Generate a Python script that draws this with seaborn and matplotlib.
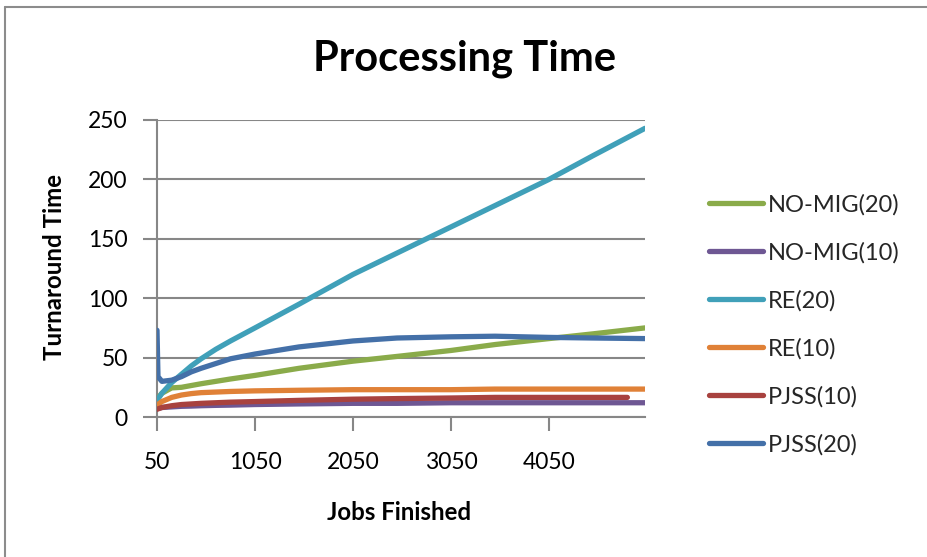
import matplotlib
matplotlib.use("Agg")
import matplotlib.pyplot as plt
import seaborn as sns
import pandas as pd
from matplotlib.lines import Line2D

# Jobs finished (sample points along the run)
jobs = [50, 100, 200, 300, 400, 500, 650, 800, 1050, 1500, 2050, 2500, 3050, 3500, 4050, 4500, 5030]

# Average turnaround time per strategy
no_mig_20 = [15, 20, 24.5, 25, 26.5, 28, 30, 32, 35, 41, 47, 51, 56, 61, 66, 70, 75]
no_mig_10 = [7, 8, 8.5, 9, 9.2, 9.5, 9.8, 10, 10.5, 11, 11.5, 11.5, 12, 12, 12, 12, 12]
re_20 = [14, 20, 29, 36, 43, 49, 57, 64, 75, 95, 120, 138, 160, 178, 200, 220, 243]
re_10 = [10, 13, 16.5, 18.5, 19.7, 20.5, 21, 21.5, 22, 22.5, 23, 23, 23, 23.5, 23.5, 23.5, 23.5]
pjss_10_jobs = [50, 100, 200, 300, 500, 800, 1050, 1500, 2050, 2500, 3050, 3500, 4050, 4500, 4850]
pjss_10 = [6.5, 8, 9.5, 10.5, 11.5, 12.5, 13, 14, 15, 15.5, 16, 16.5, 16.5, 16.5, 16.5]
pjss_20_jobs = [50, 60, 100, 200, 300, 400, 500, 650, 800, 1050, 1500, 2050, 2500, 3050, 3500, 4050, 4500, 5030]
pjss_20 = [73, 34, 30, 31, 34, 38, 41, 45, 49, 53, 59, 64, 66.5, 67.5, 68, 67, 66.5, 66]

series_names = ["NO-MIG(20)", "NO-MIG(10)", "RE(20)", "RE(10)", "PJSS(10)", "PJSS(20)"]
series_colors = ["#8AAB4A", "#6E5793", "#40A0B9", "#E08137", "#A8423F", "#4470A8"]

x_ticks = [50, 1050, 2050, 3050, 4050]
y_ticks = [0, 50, 100, 150, 200, 250]

frames = []
for name, xs, ys in [
    ("NO-MIG(20)", jobs, no_mig_20),
    ("NO-MIG(10)", jobs, no_mig_10),
    ("RE(20)", jobs, re_20),
    ("RE(10)", jobs, re_10),
    ("PJSS(10)", pjss_10_jobs, pjss_10),
    ("PJSS(20)", pjss_20_jobs, pjss_20),
]:
    frames.append(pd.DataFrame({"jobs": xs, "time": ys, "series": name}))
df = pd.concat(frames, ignore_index=True)

sns.set_theme(style="white")
plt.rcParams["font.family"] = ["Lato", "DejaVu Sans"]

W, H = 927, 557
fig = plt.figure(figsize=(W / 100, H / 100), dpi=100)
left, right, top, bottom = 157, 645, 120, 417
ax = fig.add_axes([left / W, 1 - bottom / H, (right - left) / W, (bottom - top) / H])

palette = dict(zip(series_names, series_colors))
sns.lineplot(data=df, x="jobs", y="time", hue="series", hue_order=series_names,
             palette=palette, estimator=None, sort=True, linewidth=3.8,
             legend=False, ax=ax, zorder=3)
for line in ax.get_lines():
    line.set_solid_capstyle("round")
    line.set_solid_joinstyle("round")

grid_c = "#878787"
ax.set_xlim(50, 5030)
ax.set_ylim(0, 250)
ax.set_xticks(x_ticks)
ax.set_xticklabels([str(v) for v in x_ticks])
ax.set_yticks(y_ticks)
ax.set_yticklabels([str(v) for v in y_ticks])
ax.yaxis.grid(True, color=grid_c, linewidth=1.5, zorder=1)
ax.xaxis.grid(False)
for s in ["top", "right"]:
    ax.spines[s].set_visible(False)
for s in ["left", "bottom"]:
    ax.spines[s].set_color(grid_c)
    ax.spines[s].set_linewidth(1.5)
ax.tick_params(axis="x", direction="out", length=10, width=1.5, color=grid_c,
               pad=15, labelsize=16.5, labelcolor="black", bottom=True)
ax.tick_params(axis="y", direction="out", length=10, width=1.5, color=grid_c,
               pad=11, labelsize=16.5, labelcolor="black", left=True)
ax.set_xlabel("")
ax.set_ylabel("")

# Titles
fig.text(465 / W, 1 - 70 / H, "Processing Time", ha="center", va="baseline",
         fontsize=30, fontweight="bold", color="black")
fig.text(55 / W, 1 - 267 / H, "Turnaround Time", ha="center", va="center",
         rotation=90, fontsize=17.3, fontweight="bold", color="black")
fig.text(399 / W, 1 - 512 / H, "Jobs Finished", ha="center", va="center",
         fontsize=17.3, fontweight="bold", color="black")

# Legend
handles = [Line2D([0], [0], color=c, lw=3.8, solid_capstyle="round") for c in series_colors]
fig.legend(handles, series_names, loc="upper left",
           bbox_to_anchor=(709 / W, 1 - 194 / H), frameon=False,
           fontsize=17, handlelength=2.3, handletextpad=0.2,
           labelspacing=1.12, borderpad=0, borderaxespad=0)

# Chart frame
fig.add_artist(Line2D([5 / W, 5 / W], [1 - 7 / H, 0], transform=fig.transFigure,
                      color="#8C8C8C", lw=1.5))
fig.add_artist(Line2D([5 / W, 1], [1 - 7 / H, 1 - 7 / H], transform=fig.transFigure,
                      color="#8C8C8C", lw=1.5))

fig.savefig("out.png", dpi=100, facecolor="white")
